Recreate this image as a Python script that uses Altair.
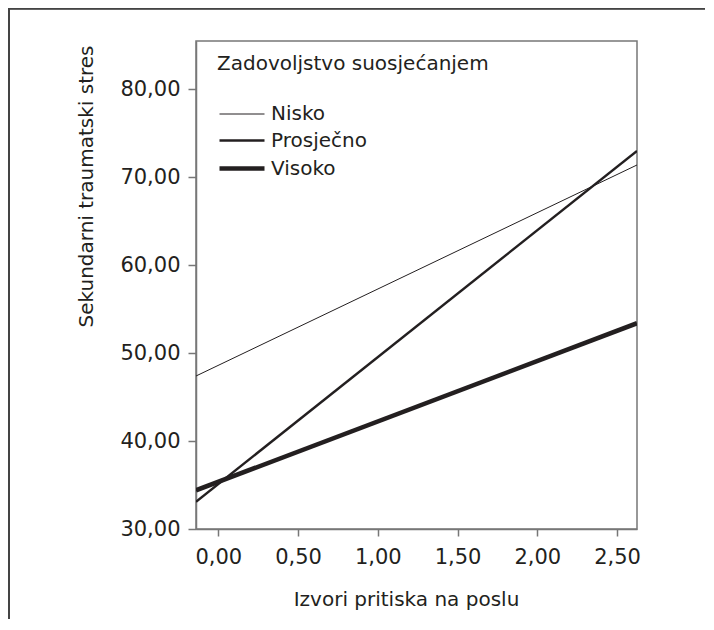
import altair as alt
import pandas as pd

levels = ["Nisko", "Prosječno", "Visoko"]
x_ends = [-0.14, 2.625]
nisko = [47.4, 71.4]
prosjecno = [33.1, 73.0]
visoko = [34.4, 53.4]
x_ticks = [0.0, 0.5, 1.0, 1.5, 2.0, 2.5]
y_ticks = [30, 40, 50, 60, 70, 80]

rows = []
for lvl, ys in zip(levels, [nisko, prosjecno, visoko]):
    for xv, yv in zip(x_ends, ys):
        rows.append({"x": xv, "y": yv, "level": lvl})
df = pd.DataFrame(rows)

FONT = "DejaVu Sans"
INK = "#231f20"
GRAY = "#777777"

lines = alt.Chart(df).mark_line(color=INK, clip=True).encode(
    x=alt.X("x:Q",
            scale=alt.Scale(domain=[-0.14, 2.625], nice=False, zero=False),
            axis=alt.Axis(values=x_ticks, title="Izvori pritiska na poslu",
                          labelExpr="replace(format(datum.value, '.2f'), '.', ',')",
                          grid=False, tickSize=7, labelPadding=10,
                          titlePadding=22, titleX=210, titleAlign="center")),
    y=alt.Y("y:Q",
            scale=alt.Scale(domain=[30, 85.5], nice=False, zero=False),
            axis=alt.Axis(values=y_ticks, title="Sekundarni traumatski stres",
                          labelExpr="replace(format(datum.value, '.2f'), '.', ',')",
                          grid=False, tickSize=8, labelPadding=8,
                          titleX=-110, titleY=145, titleAlign="center",
                          titleBaseline="middle", titleAngle=270)),
    strokeWidth=alt.StrokeWidth(
        "level:O",
        scale=alt.Scale(type="ordinal", domain=levels, range=[1.0, 2.4, 4.6]),
        legend=alt.Legend(title="Zadovoljstvo suosjećanjem", orient="none",
                          legendX=21, legendY=13, titleLimit=500, labelLimit=300,
                          symbolType="M-1,0H4", symbolSize=324,
                          symbolStrokeColor=INK, symbolFillColor=INK,
                          labelOffset=31, rowPadding=6, titlePadding=30,
                          titleFontSize=20, labelFontSize=20,
                          titleFont=FONT, labelFont=FONT,
                          titleFontWeight="normal", titleColor=INK,
                          labelColor=INK)),
    detail="level:N",
)

frame_top = alt.Chart(df).mark_rule(color="#444444", strokeWidth=1.5).encode(
    x=alt.value(-188), x2=alt.value(509),
    y=alt.value(-32.5), y2=alt.value(-32.5))
frame_left = alt.Chart(df).mark_rule(color="#444444", strokeWidth=1.5).encode(
    x=alt.value(-187), x2=alt.value(-187),
    y=alt.value(-33), y2=alt.value(620))

chart = alt.layer(lines, frame_top, frame_left).properties(
    width=441, height=488,
    autosize=alt.AutoSizeParams(type="none"),
    padding={"left": 188, "top": 33, "right": 68, "bottom": 90},
    background="white",
).configure_view(
    stroke=GRAY, strokeWidth=1.5
).configure_axis(
    domainColor=GRAY, tickColor=GRAY, domainWidth=1.5, tickWidth=1.5,
    labelFont=FONT, titleFont=FONT, labelFontSize=21, titleFontSize=20,
    labelColor=INK, titleColor=INK, titleFontWeight="normal",
)

chart.save("out.html", embed_options={"renderer": "svg", "actions": False})
